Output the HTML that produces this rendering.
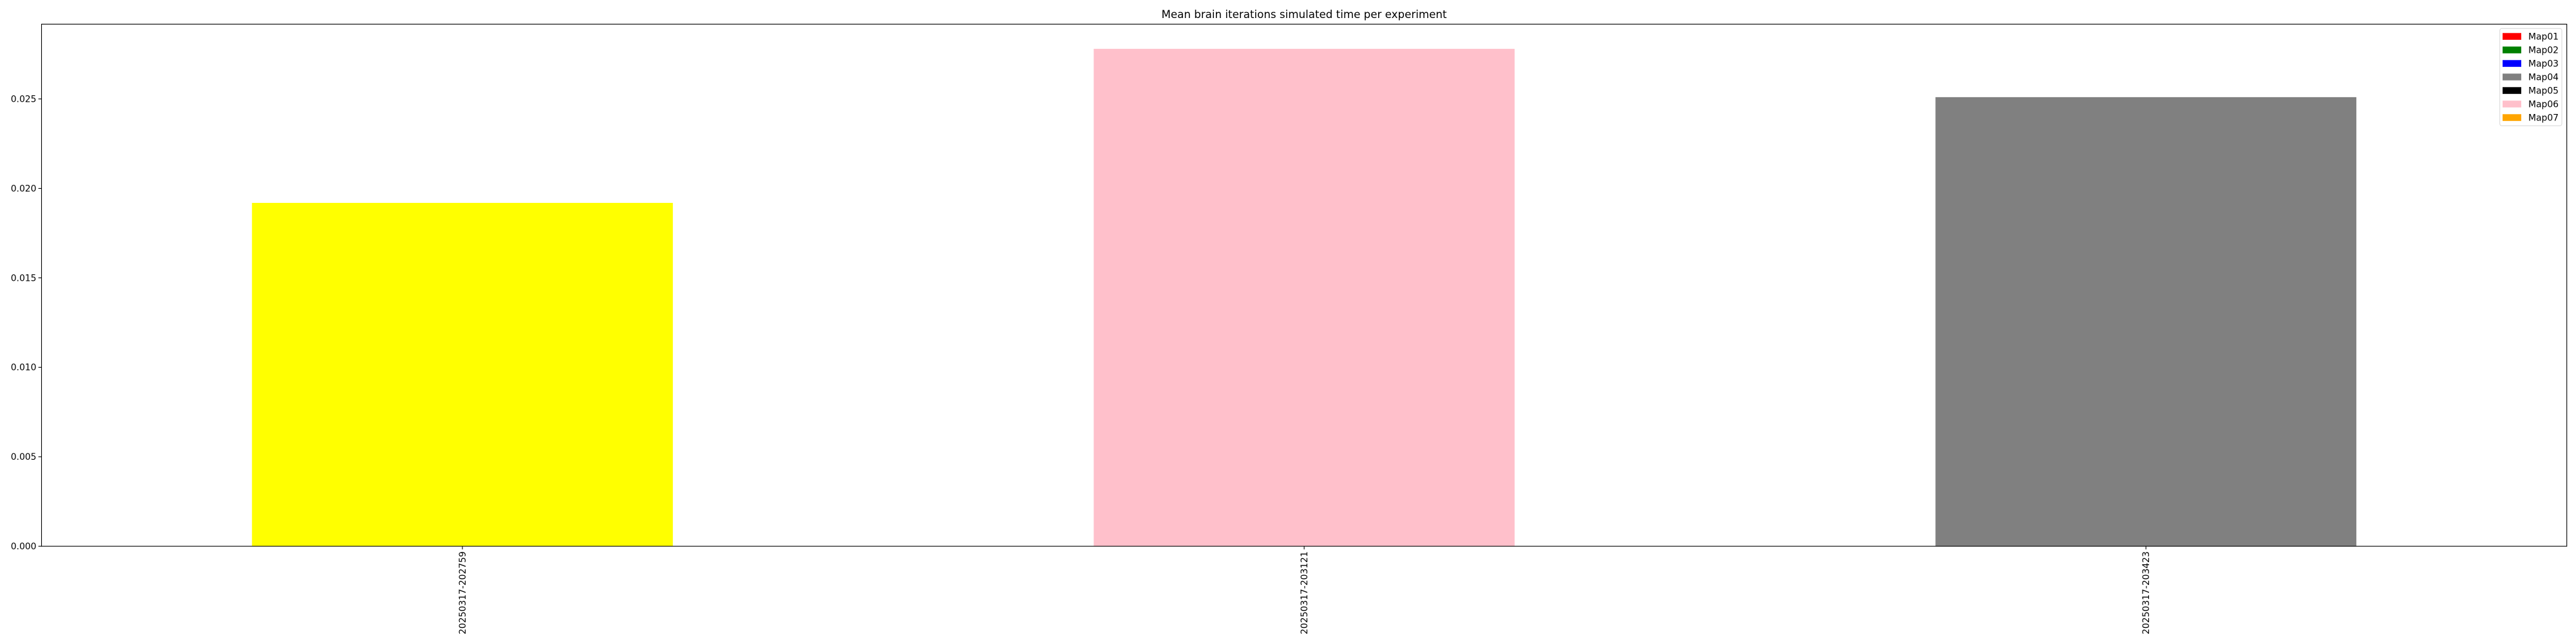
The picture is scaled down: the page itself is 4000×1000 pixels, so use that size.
<!DOCTYPE html>
<html><head><meta charset="utf-8"><style>
html,body{margin:0;padding:0;background:#fff;}
svg{display:block;font-family:"DejaVu Sans","Liberation Sans",sans-serif;}
</style></head><body>
<svg id="chart" width="4000" height="1000" viewBox="0 0 4000 1000" xmlns="http://www.w3.org/2000/svg">
<rect width="4000" height="1000" fill="#fff"/>
<text x="2025" y="28" font-size="16.7" text-anchor="middle" fill="#000">Mean brain iterations simulated time per experiment</text>
<g id="plot"></g>
<g id="legend"></g>
</svg>
<script>
const categories = ["20250317-202759", "20250317-203121", "20250317-203423"];
const values = [0.01919, 0.02780, 0.02510];
const barColors = ["#ffff00", "#ffc0cb", "#808080"];
const yTicks = [0, 0.005, 0.01, 0.015, 0.02, 0.025];
const yTickLabels = ["0.000", "0.005", "0.010", "0.015", "0.020", "0.025"];
const legendLabels = ["Map01","Map02","Map03","Map04","Map05","Map06","Map07"];
const legendColors = ["#ff0000","#008000","#0000ff","#808080","#000000","#ffc0cb","#ffa500"];

const NS = "http://www.w3.org/2000/svg";
const L = 64.5, R = 3985.7, T = 37.5, B = 848.2;
const yMax = 0.02918;
const x = i => L + (i + 0.5) * (R - L) / categories.length;
const y = v => B - v / yMax * (B - T);
const unit = (R - L) / categories.length;
function mk(tag, attrs, parent) {
  const e = document.createElementNS(NS, tag);
  for (const k in attrs) e.setAttribute(k, attrs[k]);
  parent.appendChild(e);
  return e;
}
const plot = document.getElementById("plot");
values.forEach((v, i) => {
  const r = mk("rect", {x: x(i) - unit / 4, y: y(v), width: unit / 2, height: y(0) - y(v), fill: barColors[i]}, plot);
  
  
});
yTicks.forEach((t, i) => {
  const ty = y(t);
  const tk = mk("line", {x1: L - 4.9, x2: L, y1: ty, y2: ty, stroke: "#000", "stroke-width": 1.1}, plot);
  
  
  const lb = mk("text", {x: L - 8, y: ty + 4.8, "font-size": 13.9, "text-anchor": "end", fill: "#000"}, plot);
  lb.textContent = yTickLabels[i];
  
  
});
categories.forEach((c, i) => {
  const tx = x(i);
  const tk = mk("line", {x1: tx, x2: tx, y1: B, y2: B + 4.9, stroke: "#000", "stroke-width": 1.1}, plot);
  
  
  const lb = mk("text", {x: 0, y: 0, "font-size": 13.9, "text-anchor": "end", fill: "#000",
    transform: `translate(${tx + 5},${B + 8}) rotate(-90)`}, plot);
  lb.textContent = c;
  
  
});
const frame = mk("rect", {x: L, y: T, width: R - L, height: B - T, fill: "none", stroke: "#000", "stroke-width": 1.1}, plot);



const lg = document.getElementById("legend");
const box = mk("rect", {x: 3881.7, y: 44.3, width: 96.3, height: 151, rx: 3, fill: "#fff", "fill-opacity": 0.8, stroke: "#d6d6d6", "stroke-width": 1}, lg);


legendLabels.forEach((n, i) => {
  const cy = 56.3 + i * 21;
  const p = mk("rect", {x: 3886, y: cy - 5, width: 29, height: 10.5, fill: legendColors[i]}, lg);
  
  
  const t = mk("text", {x: 3926, y: cy + 5, "font-size": 13.9, fill: "#000"}, lg);
  t.textContent = n;
  
  
});
</script>
</body></html>
